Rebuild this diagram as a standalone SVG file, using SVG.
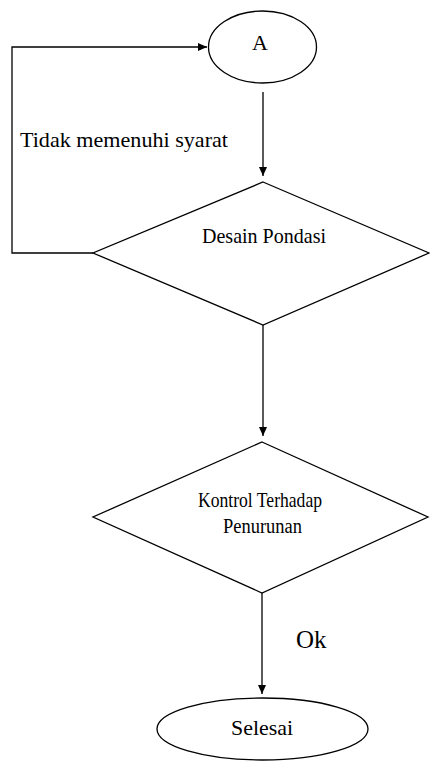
<svg xmlns="http://www.w3.org/2000/svg" width="430" height="763" viewBox="0 0 430 763">
<style>
.shape{fill:#fff;stroke:#000;stroke-width:1.3}
.line{fill:none;stroke:#000;stroke-width:1.3}
text{font-family:"Liberation Serif","Times New Roman",serif;fill:#000}
</style>
<defs>
<marker id="arr" markerWidth="10" markerHeight="8" refX="9" refY="4" orient="auto" markerUnits="userSpaceOnUse">
<path d="M0,0 L9,4 L0,8 Z" fill="#000"/>
</marker>
</defs>
<rect width="430" height="763" fill="#fff"/>
<g id="connectors">
<polyline class="line" points="93,253 12,253 12,47 207,47" marker-end="url(#arr)"/>
<line class="line" x1="263" y1="92" x2="263" y2="176" marker-end="url(#arr)"/>
<line class="line" x1="263" y1="325" x2="263" y2="436" marker-end="url(#arr)"/>
<line class="line" x1="262" y1="593" x2="262" y2="694" marker-end="url(#arr)"/>
<text x="20" y="147" font-size="22" textLength="208" lengthAdjust="spacingAndGlyphs">Tidak memenuhi syarat</text>
<text x="296" y="648" font-size="25">Ok</text>
</g>
<g id="node-a">
<ellipse class="shape" cx="262.5" cy="47" rx="54" ry="36"/>
<text x="260" y="50" font-size="22" text-anchor="middle">A</text>
</g>
<g id="node-desain">
<polygon class="shape" points="263,182 429,253 263,325 93,253"/>
<text x="202" y="243" font-size="21" textLength="124" lengthAdjust="spacingAndGlyphs">Desain Pondasi</text>
</g>
<g id="node-kontrol">
<polygon class="shape" points="262,442 428,517 262,593 93,517"/>
<text x="198" y="507" font-size="22" textLength="124" lengthAdjust="spacingAndGlyphs">Kontrol Terhadap</text>
<text x="223" y="533" font-size="20" textLength="79" lengthAdjust="spacingAndGlyphs">Penurunan</text>
</g>
<g id="node-selesai">
<ellipse class="shape" cx="262.5" cy="729" rx="105.5" ry="31"/>
<text x="231" y="735" font-size="22" textLength="62" lengthAdjust="spacingAndGlyphs">Selesai</text>
</g>
</svg>
